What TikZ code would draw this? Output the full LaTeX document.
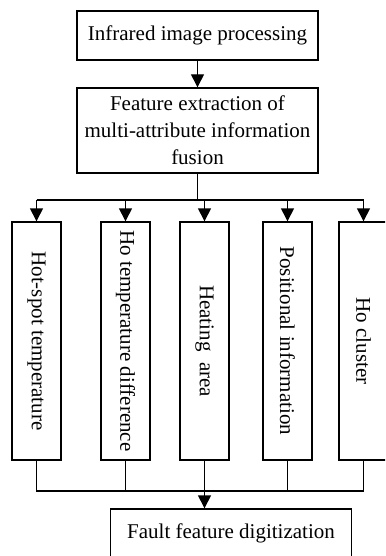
\documentclass[tikz,border=0pt]{standalone}
\usepackage{fontspec}
\setmainfont{Liberation Serif}
\usetikzlibrary{arrows.meta}

\begin{document}
\begin{tikzpicture}
          [x=0.5pt,y=-0.5pt,
          font=\fontsize{10.5}{13.5}\selectfont,
          box/.style={shape=rectangle,draw=black,fill=white,text=black,line width=0.7pt,minimum width=120.5pt,align=center,inner sep=0pt},
          tall/.style={shape=rectangle,draw=black,fill=white,text=black,line width=0.7pt,minimum width=24.5pt,minimum height=119pt,inner sep=0pt},
          arc/.style={-{Triangle[width=6.5pt,length=6.5pt]},line width=0.7pt},
          edge/.style={line width=0.7pt}]

          \clip (0,0) rectangle (385,556);

            \node (infrared) [box,minimum height=24.5pt] at (197.5,35.5) {Infrared image processing};
            \node (fusion) [box,minimum height=42.5pt] at (197.5,130.5) {Feature extraction of\\multi-attribute information\\fusion};

            \node (hot) [tall] at (36.5,341) {\rotatebox{-90}{Hot-spot temperature}};
            \node (diff) [tall] at (125.5,341) {\rotatebox{-90}{Ho temperature difference}};
            \node (area) [tall] at (204.5,341) {\rotatebox{-90}{Heating\ \ area}};
            \node (pos) [tall] at (287.5,341) {\rotatebox{-90}{Positional information}};
            \node (cluster) [tall] at (363.5,341) {\rotatebox{-90}{Ho cluster}};

            \node (digit) [box,minimum height=24.5pt] at (231,533.5) {Fault feature digitization};

          \coordinate (split) at (0,200);
          \coordinate (merge) at (0,491);

          \draw [arc] (infrared) to (fusion);
            \draw [edge] (fusion.south) to (fusion.south |- split);
            \draw [edge] (hot.north |- split) to (cluster.north |- split);
            \foreach \n in {hot,diff,area,pos,cluster}
              \draw [arc] (\n.north |- split) to (\n.north);

            \draw [edge] (hot.south) -- (hot.south |- merge) -- (cluster.south |- merge) -- (cluster.south);
            \foreach \n in {diff,pos}
              \draw [edge] (\n.south) to (\n.south |- merge);
            \draw [arc] (area.south) to (area.south |- digit.north);

        \end{tikzpicture}
\end{document}
